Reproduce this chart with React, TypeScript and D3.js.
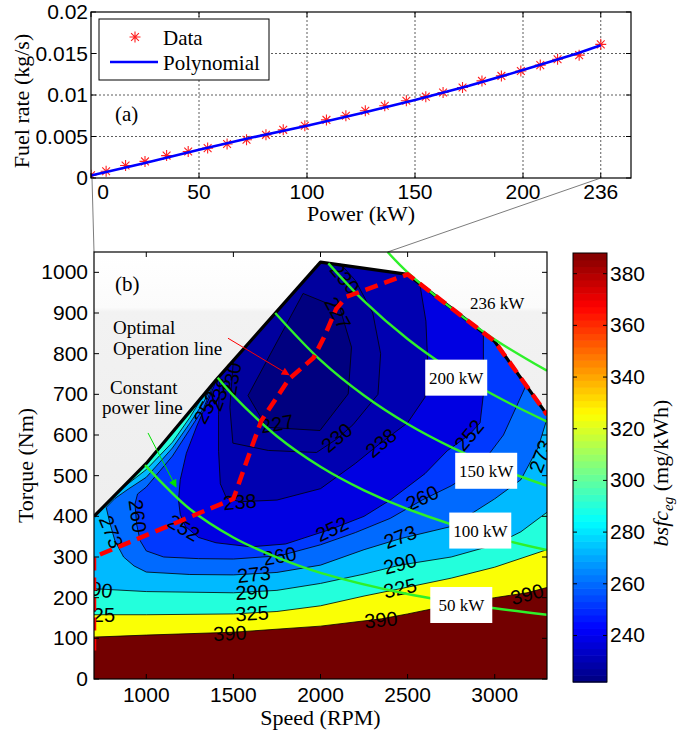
import React from 'react';
import * as d3 from 'd3';

type Pt = [number, number];

// ---- (a) fuel rate vs power ----
const powerKW = [0, 7, 16, 25, 35, 45, 54, 63, 72, 81, 89, 99, 109, 118, 127, 136, 146, 155, 163, 172, 181, 190, 199, 208, 216, 226, 236];
const fuelData = [0.00034, 0.00082, 0.0015, 0.002, 0.0027, 0.0032, 0.0036, 0.0041, 0.0046, 0.0052, 0.0058, 0.0063, 0.007, 0.0075, 0.0081, 0.0087, 0.0093, 0.0098, 0.0103, 0.0109, 0.0117, 0.0123, 0.0129, 0.0136, 0.0143, 0.0148, 0.0161];
const fitKW = [0, 25, 50, 75, 100, 125, 150, 175, 200, 225, 236];
const fitFuel = [0.0003, 0.0018, 0.0034, 0.0049, 0.0063, 0.0078, 0.0094, 0.0111, 0.013, 0.015, 0.016];
const powerTicks = [0, 50, 100, 150, 200, 236];
const fuelTicks = [0, 0.005, 0.01, 0.015, 0.02];

// ---- (b) bsfc map ----
const speedTicks = [1000, 1500, 2000, 2500, 3000];
const torqueTicks = [0, 100, 200, 300, 400, 500, 600, 700, 800, 900, 1000];
const cbTicks = [240, 260, 280, 300, 320, 340, 360, 380];
const clim = [222, 388];

const envelope: Pt[] = [[700, 400], [1000, 530], [1400, 735], [2000, 1025], [2500, 995], [3000, 830], [3300, 650]];
const optimalLine: Pt[] = [[700, 70], [700, 300], [1500, 443], [1580, 540], [1660, 635], [1820, 738], [1960, 790], [2020, 840], [2090, 910], [2150, 940], [2500, 995], [3000, 830], [3300, 650]];

// contour lines (speed rpm, torque Nm)
const c390: Pt[] = [[700, 103], [1000, 108], [1500, 115], [2000, 130], [2350, 148], [2500, 160], [2750, 182], [3000, 200], [3185, 212], [3300, 225]];
const c325: Pt[] = [[700, 158], [1000, 158], [1500, 160], [1750, 166], [2000, 180], [2250, 204], [2457, 222], [2750, 248], [3000, 275], [3300, 318]];
const c290: Pt[] = [[700, 222], [1000, 215], [1500, 212], [1750, 218], [2000, 235], [2250, 258], [2456, 280], [2750, 300], [3000, 330], [3150, 362], [3300, 410]];
const c290edge: Pt[] = [[850, 465], [1000, 515], [1150, 582], [1250, 643], [1330, 699]];
const c273: Pt[] = [[1380, 725], [1330, 681], [1250, 629], [1150, 568], [1000, 496], [900, 468], [820, 444], [770, 422], [790, 385], [820, 340], [870, 300], [930, 278], [1000, 263], [1250, 257], [1500, 256], [1750, 262], [2000, 280], [2250, 318], [2457, 345], [2750, 375], [3000, 443], [3150, 490], [3250, 570], [3300, 640]];
const c260: Pt[] = [[1390, 730], [1330, 667], [1250, 614], [1150, 548], [1000, 472], [950, 455], [935, 430], [945, 380], [965, 340], [1000, 315], [1100, 300], [1300, 296], [1500, 295], [1766, 303], [2000, 330], [2200, 360], [2400, 395], [2583, 440], [2750, 475], [2900, 515], [3050, 600], [3180, 722]];
const c252: Pt[] = [[1405, 738], [1360, 690], [1290, 622], [1230, 555], [1195, 490], [1185, 440], [1195, 405], [1225, 375], [1300, 348], [1400, 335], [1600, 325], [1800, 332], [2065, 369], [2250, 400], [2400, 440], [2600, 505], [2727, 561], [2852, 600], [2916, 630], [2935, 700], [2935, 851]];
const c238: Pt[] = [[1420, 745], [1415, 650], [1415, 560], [1425, 480], [1460, 445], [1537, 436], [1750, 440], [2000, 468], [2200, 530], [2347, 581], [2500, 630], [2600, 693], [2615, 780], [2605, 880], [2570, 972]];
const c230: Pt[] = [[1500, 783], [1485, 700], [1480, 668], [1497, 580], [1700, 562], [1977, 557], [2093, 590], [2186, 625], [2330, 700], [2345, 800], [2300, 900], [2200, 980], [2120, 1018]];
const c227: Pt[] = [[1584, 697], [1690, 619], [1997, 611], [2159, 701], [2178, 816], [2112, 911], [1900, 948]];

const bands = [
  { level: 390, below: 325, line: c390 },
  { level: 325, below: 290, line: c325 },
  { level: 290, below: 273, line: c290, pocket: c290edge },
  { level: 273, below: 260, line: c273 },
  { level: 260, below: 252, line: c260 },
  { level: 252, below: 238, line: c252 },
  { level: 238, below: 230, line: c238 },
  { level: 230, below: 227, line: c230 },
  { level: 227, below: 222, line: c227, closed: true },
];

// constant power lines
const p236: Pt[] = [[2385, 1050], [2500, 1000], [2750, 912], [3000, 835], [3300, 758]];
const p200: Pt[] = [[2045, 1022], [2250, 929], [2500, 836], [2750, 760], [3000, 697], [3300, 633]];
const p150: Pt[] = [[1740, 900], [2000, 784], [2250, 697], [2500, 627], [2750, 570], [3000, 522], [3300, 475]];
const p100: Pt[] = [[1410, 741], [1500, 697], [1750, 597], [2000, 522], [2250, 464], [2500, 418], [3000, 348], [3300, 317]];
const p50: Pt[] = [[993, 526], [1250, 418], [1500, 348], [1750, 299], [2000, 261], [2500, 209], [3000, 174], [3300, 158]];
const powerLines = [p236, p200, p150, p100, p50];
const powerLabels = [
  { text: '236 kW', at: [3014, 924] as Pt, box: false },
  { text: '200 kW', at: [2779, 741] as Pt, box: true },
  { text: '150 kW', at: [2951, 512] as Pt, box: true },
  { text: '100 kW', at: [2917, 365] as Pt, box: true },
  { text: '50 kW', at: [2808, 182] as Pt, box: true },
];

const contourLabels = [
  { t: '390', at: [1480, 113] as Pt, a: -3 },
  { t: '390', at: [2347, 146] as Pt, a: -5 },
  { t: '390', at: [3185, 209] as Pt, a: -15 },
  { t: '325', at: [1607, 162] as Pt, a: -3 },
  { t: '325', at: [2457, 224] as Pt, a: -12 },
  { t: '325', at: [725, 158] as Pt, a: 0 },
  { t: '290', at: [1607, 214] as Pt, a: -3 },
  { t: '290', at: [2456, 284] as Pt, a: -15 },
  { t: '290', at: [712, 222] as Pt, a: 8 },
  { t: '273', at: [1618, 258] as Pt, a: -6 },
  { t: '273', at: [2457, 350] as Pt, a: -20 },
  { t: '273', at: [800, 362] as Pt, a: 68 },
  { t: '273', at: [3262, 548] as Pt, a: -70 },
  { t: '260', at: [1766, 303] as Pt, a: -10 },
  { t: '260', at: [2583, 446] as Pt, a: -25 },
  { t: '260', at: [952, 401] as Pt, a: 82 },
  { t: '252', at: [1216, 372] as Pt, a: 30 },
  { t: '252', at: [2065, 369] as Pt, a: -25 },
  { t: '252', at: [2852, 600] as Pt, a: -50 },
  { t: '252', at: [1345, 668] as Pt, a: -62 },
  { t: '238', at: [1537, 436] as Pt, a: -5 },
  { t: '238', at: [2347, 581] as Pt, a: -40 },
  { t: '238', at: [1420, 700] as Pt, a: -70 },
  { t: '230', at: [2093, 594] as Pt, a: -40 },
  { t: '230', at: [1490, 738] as Pt, a: -80 },
  { t: '230', at: [2140, 985] as Pt, a: 50 },
  { t: '227', at: [1750, 628] as Pt, a: -10 },
  { t: '227', at: [2100, 900] as Pt, a: 62 },
];

const jet = (t: number) => {
  const c = (x: number) => Math.max(0, Math.min(1, x));
  const r = c(1.5 - Math.abs(4 * t - 3));
  const g = c(1.5 - Math.abs(4 * t - 2));
  const b = c(1.5 - Math.abs(4 * t - 1));
  return d3.rgb(r * 255, g * 255, b * 255).formatHex();
};
const colorOf = (v: number) => jet((v - clim[0]) / (clim[1] - clim[0]));

const sans = '"Liberation Sans", Arial, sans-serif';
const serif = '"Liberation Serif", "Times New Roman", serif';

export default function App() {
  // top axes
  const A = { l: 91, r: 631, t: 12, b: 178 };
  const xP = d3.scaleLinear().domain([0, 250]).range([A.l, A.r]);
  const yF = d3.scaleLinear().domain([0, 0.02]).range([A.b, A.t]);
  // bottom axes
  const B = { l: 94, r: 547, t: 252, b: 679 };
  const xS = d3.scaleLinear().domain([700, 3300]).range([B.l, B.r]);
  const yT = d3.scaleLinear().domain([0, 1050]).range([B.b, B.t]);
  // colorbar
  const C = { l: 573, r: 607, t: 253, b: 682 };
  const yC = d3.scaleLinear().domain(clim).range([C.b, C.t]);

  const ln = d3.line<Pt>().x(d => xS(d[0])).y(d => yT(d[1]));
  const smooth = d3.line<Pt>().x(d => xS(d[0])).y(d => yT(d[1])).curve(d3.curveCatmullRom);
  const closeUp = (pts: Pt[], top: number) =>
    ln([...pts, [pts[pts.length - 1][0], top], [pts[0][0], top]]) + 'Z';
  const regionD = (b: any) => {
    if (b.closed) return ln(b.line) + 'Z';
    let d = closeUp(b.line, 1200);
    if (b.pocket) d += closeUp(b.pocket, 1190);
    return d;
  };

  const fitLine = d3.line<number>().x((_, i) => xP(fitKW[i])).y(d => yF(d));
  const envClip = ln([...envelope, [3300, 0], [700, 0]]) + 'Z';
  const star = 'M-5.5,0H5.5M0,-5.5V5.5M-3.9,-3.9L3.9,3.9M-3.9,3.9L3.9,-3.9';

  const nCb = 64;
  const cbSteps = d3.range(nCb);

  return (
    <svg width={684} height={734} style={{ position: 'absolute', left: 0, top: 0, background: '#fff' }}>
      <defs>
        <clipPath id="axA"><rect x={A.l} y={A.t} width={A.r - A.l} height={A.b - A.t} /></clipPath>
        <clipPath id="axB"><rect x={B.l} y={B.t} width={B.r - B.l} height={B.b - B.t} /></clipPath>
        <clipPath id="env"><path d={envClip} /></clipPath>
        <linearGradient id="bg" x1="0" y1="0" x2="0" y2="1">
          <stop offset="0" stopColor="#ffffff" />
          <stop offset="0.13" stopColor="#fbfbfb" />
          <stop offset="0.14" stopColor="#f2f2f2" />
          <stop offset="1" stopColor="#ebebeb" />
        </linearGradient>
        <marker id="arR" viewBox="0 0 10 10" refX="9" refY="5" markerWidth="10" markerHeight="8" markerUnits="userSpaceOnUse" orient="auto">
          <path d="M0,0L10,5L0,10Z" fill="#ff0000" />
        </marker>
        <marker id="arG" viewBox="0 0 10 10" refX="9" refY="5" markerWidth="10" markerHeight="8" markerUnits="userSpaceOnUse" orient="auto">
          <path d="M0,0L10,5L0,10Z" fill="#00e000" />
        </marker>
      </defs>

      {/* ===== (a) ===== */}
      <rect x={A.l} y={A.t} width={A.r - A.l} height={A.b - A.t} fill="#fff" />
      <g stroke="#333" strokeWidth={0.8} strokeDasharray="2,2">
        {powerTicks.filter(v => v > 0).map(v => <line key={'gx' + v} x1={xP(v)} x2={xP(v)} y1={A.t} y2={A.b} />)}
        {fuelTicks.filter(v => v > 0 && v < 0.02).map(v => <line key={'gy' + v} x1={A.l} x2={A.r} y1={yF(v)} y2={yF(v)} />)}
      </g>
      <g clipPath="url(#axA)">
        {powerKW.map((p, i) => (
          <path key={'s' + i} d={star} transform={`translate(${xP(p)},${yF(fuelData[i])})`} stroke="#ff2020" strokeWidth={1.1} fill="none" />
        ))}
      </g>
      <path d={fitLine(fitFuel) || ''} fill="none" stroke="#0000ff" strokeWidth={2.6} />
      <g stroke="#000" strokeWidth={1}>
        {powerTicks.map(v => <line key={'tx' + v} x1={xP(v)} x2={xP(v)} y1={A.b} y2={A.b - 5} />)}
        {powerTicks.map(v => <line key={'tx2' + v} x1={xP(v)} x2={xP(v)} y1={A.t} y2={A.t + 5} />)}
        {fuelTicks.map(v => <line key={'ty' + v} x1={A.l} x2={A.l + 5} y1={yF(v)} y2={yF(v)} />)}
        {fuelTicks.map(v => <line key={'ty2' + v} x1={A.r} x2={A.r - 5} y1={yF(v)} y2={yF(v)} />)}
      </g>
      <rect x={A.l} y={A.t} width={A.r - A.l} height={A.b - A.t} fill="none" stroke="#000" strokeWidth={1.2} />
      <g fontFamily={sans} fontSize={21} fill="#000">
        {powerTicks.map(v => (
          <text key={'lx' + v} x={xP(v) + (v === 0 ? 12 : 0)} y={A.b + 21} textAnchor="middle">{v}</text>
        ))}
        {fuelTicks.map(v => (
          <text key={'ly' + v} x={A.l - 3} y={yF(v) + 7} textAnchor="end">{v}</text>
        ))}
      </g>
      <text x={(A.l + A.r) / 2} y={221} textAnchor="middle" fontFamily={serif} fontSize={22}>Power (kW)</text>
      <text transform={`translate(29,${(A.t + A.b) / 2 + 6}) rotate(-90)`} textAnchor="middle" fontFamily={serif} fontSize={22}>Fuel rate (kg/s)</text>
      <text x={115} y={121} fontFamily={serif} fontSize={21}>(a)</text>
      {/* legend */}
      <rect x={99} y={19} width={170} height={61} fill="#fff" stroke="#000" strokeWidth={1} />
      <path d={star} transform="translate(135,37)" stroke="#ff2020" strokeWidth={1.1} fill="none" />
      <text x={163} y={45} fontFamily={serif} fontSize={21}>Data</text>
      <line x1={110} x2={158} y1={62} y2={62} stroke="#0000ff" strokeWidth={2.6} />
      <text x={163} y={70} fontFamily={serif} fontSize={21}>Polynomial</text>

      {/* zoom connector lines */}
      <line x1={A.l + 1} y1={A.b} x2={B.l} y2={B.t} stroke="#444" strokeWidth={0.7} />
      <line x1={xP(236)} y1={A.b} x2={xS(p236[0][0])} y2={B.t} stroke="#444" strokeWidth={0.7} />

      {/* ===== (b) ===== */}
      <rect x={B.l} y={B.t} width={B.r - B.l} height={B.b - B.t} fill="url(#bg)" />
      <g clipPath="url(#axB)">
        <g clipPath="url(#env)">
          <rect x={B.l} y={B.t} width={B.r - B.l} height={B.b - B.t} fill={colorOf(390)} />
          {bands.map(b => (
            <path key={'b' + b.level} d={regionD(b)} fill={colorOf(b.below)} fillRule="evenodd" />
          ))}
          {bands.map(b => (
            <g key={'c' + b.level} fill="none" stroke="#000" strokeWidth={0.8}>
              <path d={(ln(b.line) || '') + (b.closed ? 'Z' : '')} />
              {b.pocket && <path d={ln(b.pocket) || ''} />}
            </g>
          ))}
        </g>
        <g fontFamily={sans} fontSize={20} fill="#000" textAnchor="middle">
          {contourLabels.map((c, i) => (
            <text key={'cl' + i} transform={`translate(${xS(c.at[0])},${yT(c.at[1])}) rotate(${c.a})`} dy="0.36em">{c.t}</text>
          ))}
        </g>
        <path d={ln(envelope) || ''} fill="none" stroke="#000" strokeWidth={3.2} strokeLinejoin="round" />
        {powerLines.map((p, i) => (
          <path key={'pl' + i} d={smooth(p) || ''} fill="none" stroke="#2ef02a" strokeWidth={2.4} />
        ))}
        <path d={ln(optimalLine) || ''} fill="none" stroke="#ff0000" strokeWidth={4.5} strokeDasharray="13,7" />
        {powerLabels.map(p => (
          <g key={p.text} transform={`translate(${xS(p.at[0])},${yT(p.at[1])})`}>
            {p.box && <rect x={-31} y={-18} width={62} height={36} fill="#fff" />}
            <text textAnchor="middle" dy="0.35em" fontFamily={serif} fontSize={17}>{p.text}</text>
          </g>
        ))}
      </g>
      {/* annotations */}
      <g fontFamily={serif} fontSize={19} fill="#000">
        <text x={xS(820)} y={yT(954)} fontSize={21}>(b)</text>
        <text x={xS(809)} y={yT(848)}>Optimal</text>
        <text x={xS(809)} y={yT(797)}>Operation line</text>
        <text x={xS(792)} y={yT(701)}>Constant</text>
        <text x={xS(746)} y={yT(652)}>power line</text>
      </g>
      <line x1={xS(1469)} y1={yT(838)} x2={xS(1819)} y2={yT(748)} stroke="#ff0000" strokeWidth={1} markerEnd="url(#arR)" />
      <line x1={xS(1010)} y1={yT(605)} x2={xS(1171)} y2={yT(472)} stroke="#00e000" strokeWidth={1} markerEnd="url(#arG)" />

      <g stroke="#000" strokeWidth={1}>
        {speedTicks.map(v => <line key={'sx' + v} x1={xS(v)} x2={xS(v)} y1={B.b} y2={B.b - 5} />)}
        {speedTicks.map(v => <line key={'sx2' + v} x1={xS(v)} x2={xS(v)} y1={B.t} y2={B.t + 5} />)}
        {torqueTicks.map(v => <line key={'sy' + v} x1={B.l} x2={B.l + 5} y1={yT(v)} y2={yT(v)} />)}
        {torqueTicks.map(v => <line key={'sy2' + v} x1={B.r} x2={B.r - 5} y1={yT(v)} y2={yT(v)} />)}
      </g>
      <rect x={B.l} y={B.t} width={B.r - B.l} height={B.b - B.t} fill="none" stroke="#000" strokeWidth={1.2} />
      <g fontFamily={sans} fontSize={21} fill="#000">
        {speedTicks.map(v => <text key={'slx' + v} x={xS(v)} y={B.b + 23} textAnchor="middle">{v}</text>)}
        {torqueTicks.map(v => <text key={'sly' + v} x={B.l - 6} y={yT(v) + 7} textAnchor="end">{v}</text>)}
      </g>
      <text x={(B.l + B.r) / 2} y={725} textAnchor="middle" fontFamily={serif} fontSize={22}>Speed (RPM)</text>
      <text transform={`translate(33,${(B.t + B.b) / 2}) rotate(-90)`} textAnchor="middle" fontFamily={serif} fontSize={22}>Torque (Nm)</text>

      {/* colorbar */}
      {cbSteps.map(i => {
        const v0 = clim[0] + (i / nCb) * (clim[1] - clim[0]);
        const v1 = clim[0] + ((i + 1) / nCb) * (clim[1] - clim[0]);
        return <rect key={'cb' + i} x={C.l} y={yC(v1)} width={C.r - C.l} height={yC(v0) - yC(v1) + 0.6} fill={jet((i + 0.5) / nCb)} />;
      })}
      <g stroke="#000" strokeWidth={1}>
        {cbTicks.map(v => <line key={'ct' + v} x1={C.l} x2={C.l + 4} y1={yC(v)} y2={yC(v)} />)}
        {cbTicks.map(v => <line key={'ct2' + v} x1={C.r} x2={C.r - 4} y1={yC(v)} y2={yC(v)} />)}
      </g>
      <rect x={C.l} y={C.t} width={C.r - C.l} height={C.b - C.t} fill="none" stroke="#000" strokeWidth={1} />
      <g fontFamily={sans} fontSize={21} fill="#000">
        {cbTicks.map(v => <text key={'cbl' + v} x={C.r + 3} y={yC(v) + 7}>{v}</text>)}
      </g>
      <text transform={`translate(668,473) rotate(-90)`} textAnchor="middle" fontFamily={serif} fontSize={22}>
        <tspan fontStyle="italic">bsfc</tspan>
        <tspan fontStyle="italic" fontSize={15} dy={5}>eg</tspan>
        <tspan dy={-5}> (mg/kWh)</tspan>
      </text>
    </svg>
  );
}
